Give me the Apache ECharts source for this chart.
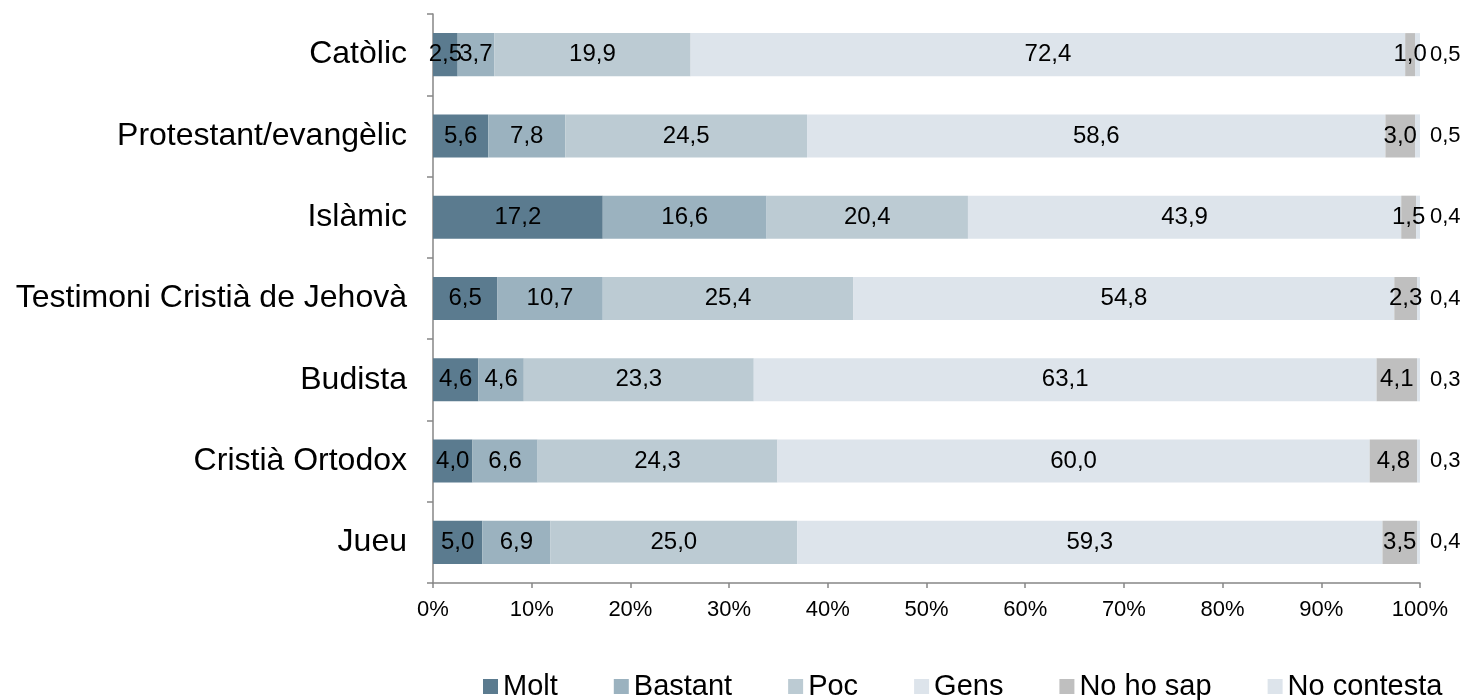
<!DOCTYPE html>
<html><head><meta charset="utf-8">
<script src="https://cdn.jsdelivr.net/npm/echarts@6/dist/echarts.min.js"></script>
<style>html,body{margin:0;padding:0;background:#fff}#c{width:1470px;height:700px}</style>
</head><body><div id="c"></div>
<script>
const categories = ['Catòlic','Protestant/evangèlic','Islàmic','Testimoni Cristià de Jehovà','Budista','Cristià Ortodox','Jueu'];
const seriesNames = ['Molt','Bastant','Poc','Gens','No ho sap','No contesta'];
const molt = [2.5,5.6,17.2,6.5,4.6,4.0,5.0];
const bastant = [3.7,7.8,16.6,10.7,4.6,6.6,6.9];
const poc = [19.9,24.5,20.4,25.4,23.3,24.3,25.0];
const gens = [72.4,58.6,43.9,54.8,63.1,60.0,59.3];
const noHoSap = [1.0,3.0,1.5,2.3,4.1,4.8,3.5];
const noContesta = [0.5,0.5,0.4,0.4,0.3,0.3,0.4];

const colors = ['#5b7b8f','#9bb2bf','#bccbd3','#dde4eb','#bfbfbf','#dde4eb'];
const values = [molt,bastant,poc,gens,noHoSap,noContesta];
const fmt = p => p.value.toFixed(1).replace('.', ',');
const FF = 'Liberation Sans, Arial, sans-serif';
const chart = echarts.init(document.getElementById('c'));
chart.setOption({
  animation:false,
  textStyle:{fontFamily:FF},
  grid:{left:433,right:50,top:14,bottom:117},
  legend:{top:672,left:483,padding:0,itemWidth:15,itemHeight:15,itemGap:56,icon:'rect',
    textStyle:{fontSize:29,color:'#000',fontFamily:FF,padding:[0,0,0,0]},
    data:seriesNames},
  xAxis:{type:'value',min:0,max:100,interval:10,
    axisLine:{show:true,lineStyle:{color:'#868686',width:1.5}},
    axisTick:{show:true,length:5,lineStyle:{color:'#868686',width:1.5}},
    splitLine:{show:false},
    axisLabel:{formatter:v=>v+'%',fontSize:22,color:'#000',margin:16}},
  yAxis:{type:'category',data:categories,inverse:true,
    axisLine:{show:true,lineStyle:{color:'#868686',width:1.5}},
    axisTick:{show:true,length:6,inside:false,lineStyle:{color:'#868686',width:1.5}},
    axisLabel:{fontSize:32,color:'#000',margin:26}},
  series: seriesNames.map((n,i)=>({
    name:n,type:'bar',stack:'t',barWidth:'53%',
    itemStyle:{color:colors[i]},
    label:{show:true,position: i===5?'right':'inside',distance:10,formatter:fmt,fontSize:i===5?22:24,color:'#000'},
    labelLayout: {hideOverlap:false},
    data:values[i]
  }))
});
</script></body></html>
